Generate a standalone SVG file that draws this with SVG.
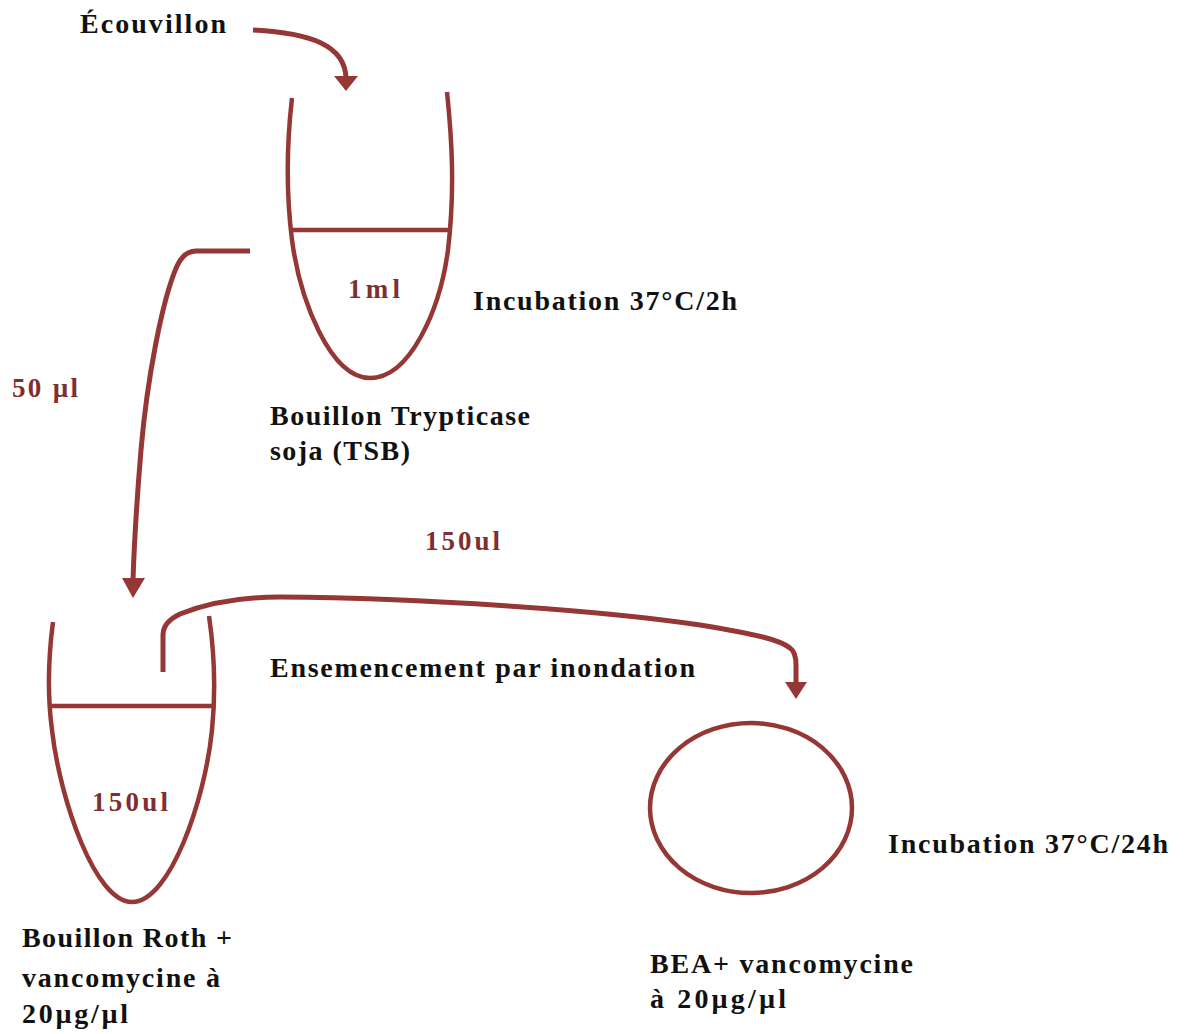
<svg xmlns="http://www.w3.org/2000/svg" width="1185" height="1034" viewBox="0 0 1185 1034">
<defs>
<style>
.t{font-family:"Liberation Serif","Times New Roman",serif;font-weight:bold;font-size:28px;fill:#111}
.r{font-family:"Liberation Serif","Times New Roman",serif;font-weight:bold;font-size:27px;fill:#7f2f2f}
.ln{fill:none;stroke:#953735;stroke-width:5;stroke-linecap:butt;stroke-linejoin:round}
.tube{fill:none;stroke:#953735;stroke-width:4.5}
.head{fill:#953735}
</style>
</defs>
<rect width="1185" height="1034" fill="#fff"/>
<g id="connectors">
<path class="ln" d="M253,30 C310,33 345,45 346,78"/>
<polygon class="head" points="334,76 358,76 346,91"/>
<path class="ln" d="M250,251 L196,251 Q184,251 177,266 C162,300 147,380 141,450 C136,510 134,550 133,580"/>
<polygon class="head" points="122,578 145,578 133,598"/>
<path class="ln" d="M163,672 L163,635 Q163,622 180,614 C210,602 240,597 280,597 C420,598 600,610 700,625 C760,635 780,640 790,648 Q796,652 796,665 L796,684"/>
<polygon class="head" points="785,682 807,682 796,699"/>
</g>
<g id="swab">
<text class="t" x="80" y="33" textLength="146" lengthAdjust="spacing">Écouvillon</text>
</g>
<g id="tube-tsb">
<path class="tube" d="M292,98 C286,150 287,200 292,240 C300,300 330,378 370,378 C410,378 440,310 448,250 C455,190 452,140 447,92"/>
<line class="tube" x1="290" y1="230" x2="451" y2="230"/>
<text class="r" x="348" y="298" textLength="52" lengthAdjust="spacing">1ml</text>
<text class="t" x="270" y="425" textLength="260" lengthAdjust="spacing">Bouillon Trypticase</text>
<text class="t" x="270" y="460" textLength="140" lengthAdjust="spacing">soja (TSB)</text>
</g>
<g id="incubation-2h">
<text class="t" x="473" y="310" textLength="264" lengthAdjust="spacing">Incubation 37°C/2h</text>
</g>
<g id="label-50">
<text class="r" x="12" y="397" textLength="66" lengthAdjust="spacing">50 µl</text>
</g>
<g id="label-150">
<text class="r" x="425" y="550" textLength="75" lengthAdjust="spacing">150ul</text>
</g>
<g id="tube-roth">
<path class="tube" d="M53,622 C48,660 48,700 52,730 C60,800 95,902 132,902 C170,902 205,800 212,730 C216,690 214,650 209,616"/>
<line class="tube" x1="50" y1="706" x2="215" y2="706"/>
<text class="r" x="92" y="811" textLength="76" lengthAdjust="spacing">150ul</text>
<text class="t" x="22" y="947" textLength="210" lengthAdjust="spacing">Bouillon Roth +</text>
<text class="t" x="22" y="987" textLength="198" lengthAdjust="spacing">vancomycine à</text>
<text class="t" x="22" y="1023" textLength="106" lengthAdjust="spacing">20µg/µl</text>
</g>
<g id="ensemencement">
<text class="t" x="270" y="677" textLength="425" lengthAdjust="spacing">Ensemencement par inondation</text>
</g>
<g id="plate-bea">
<ellipse class="tube" cx="751" cy="808" rx="101" ry="85"/>
<text class="t" x="650" y="973" textLength="263" lengthAdjust="spacing">BEA+ vancomycine</text>
<text class="t" x="650" y="1008" textLength="136" lengthAdjust="spacing">à  20µg/µl</text>
</g>
<g id="incubation-24h">
<text class="t" x="888" y="853" textLength="280" lengthAdjust="spacing">Incubation 37°C/24h</text>
</g>
</svg>
